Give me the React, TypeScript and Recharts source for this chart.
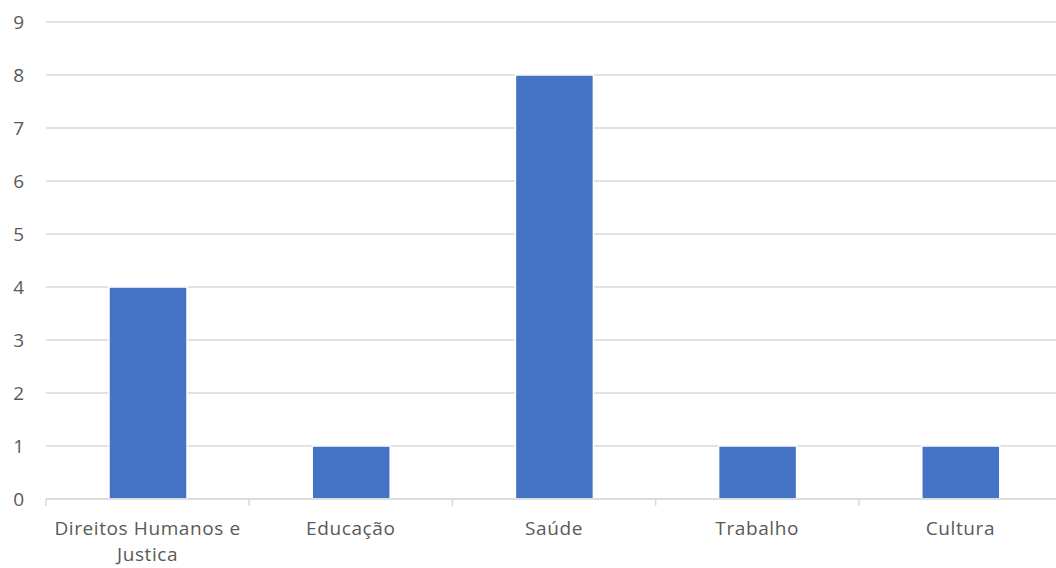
import { BarChart, Bar, XAxis, YAxis, CartesianGrid } from 'recharts'

const categories = ['Direitos Humanos e Justica', 'Educação', 'Saúde', 'Trabalho', 'Cultura']
const values = [4, 1, 8, 1, 1]
const yTicks = [0, 1, 2, 3, 4, 5, 6, 7, 8, 9]

const data = categories.map((name, i) => ({ name, value: values[i] }))

const W = 1062
const H = 568
const AXIS_W = 46
const BAND = (W - AXIS_W) / categories.length
const FONT = '"Open Sans", "Noto Sans", sans-serif'
const GRID = '#d9d9d9'
const TEXT = '#595959'

function wrap(label: string, max: number) {
  const lines: string[] = []
  let cur = ''
  for (const w of label.split(' ')) {
    const next = cur ? cur + ' ' + w : w
    if (next.length > max && cur) {
      lines.push(cur)
      cur = w
    } else cur = next
  }
  if (cur) lines.push(cur)
  return lines
}

function CategoryTick(props: any) {
  const { x, y, payload, index } = props
  const lines = wrap(payload.value, 18)
  const last = index === categories.length - 1
  return (
    <g>
      <line x1={x - BAND / 2} x2={x - BAND / 2} y1={y - 8} y2={y - 1} stroke={GRID} strokeWidth={1.5} />
      {last && <line x1={x + BAND / 2} x2={x + BAND / 2} y1={y - 8} y2={y - 1} stroke={GRID} strokeWidth={1.5} />}
      <text x={x} y={y + 28} textAnchor="middle" fill={TEXT} fontSize={19} letterSpacing={0.6} fontFamily={FONT}>
        {lines.map((l, i) => (
          <tspan key={i} x={x} dy={i === 0 ? 0 : 26}>{l}</tspan>
        ))}
      </text>
    </g>
  )
}

export default function App() {
  return (
    <div style={{ position: 'absolute', left: 0, top: 0, width: 1056, height: 568, overflow: 'hidden', background: '#fff' }}>
      <BarChart width={W} height={H} data={data} margin={{ top: 22, right: 0, bottom: 0, left: 0 }}>
        <CartesianGrid vertical={false} stroke={GRID} strokeWidth={1.5} />
        <XAxis
          dataKey="name"
          height={69}
          axisLine={{ stroke: GRID, strokeWidth: 1.5 }}
          tickLine={false}
          interval={0}
          tick={<CategoryTick />}
        />
        <YAxis
          width={AXIS_W}
          domain={[0, 9]}
          ticks={yTicks}
          interval={0}
          axisLine={false}
          tickLine={false}
          tickSize={0}
          tickMargin={22}
          tick={{ fill: TEXT, fontSize: 19, fontFamily: FONT }}
        />
        <Bar dataKey="value" fill="#4472c4" stroke="#ffffff" strokeWidth={1.5} barSize={78} isAnimationActive={false} />
      </BarChart>
    </div>
  )
}
